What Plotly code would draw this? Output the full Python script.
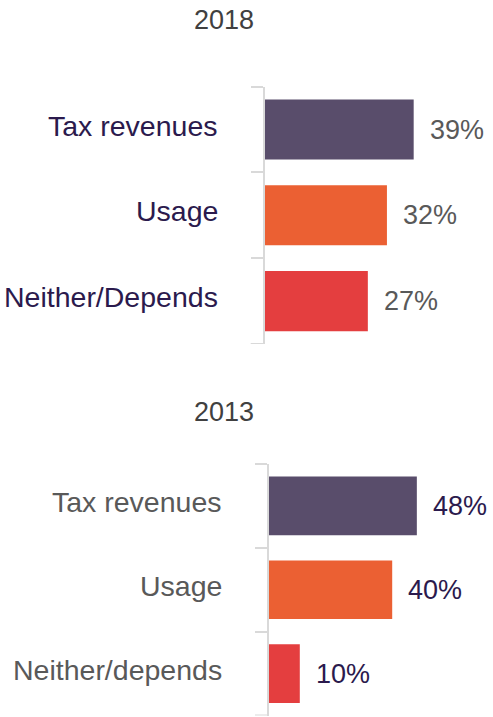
import plotly.graph_objects as go
from plotly.subplots import make_subplots

# Survey results: how the service should be funded
categories_2018 = ["Tax revenues", "Usage", "Neither/Depends"]
values_2018 = [39, 32, 27]

categories_2013 = ["Tax revenues", "Usage", "Neither/depends"]
values_2013 = [48, 40, 10]

bar_colors = ["#594d6b", "#eb6033", "#e43e3f"]

PURPLE = "#2b1a4d"
GREY = "#595959"
AXIS_GREY = "#d9d9d9"
FONT = "Arial, Liberation Sans, sans-serif"
W, H = 493, 717

fig = make_subplots(rows=2, cols=1)

fig.add_trace(go.Bar(x=values_2018, y=categories_2018, orientation="h",
                     marker=dict(color=bar_colors, line=dict(width=0)),
                     width=0.7, hoverinfo="skip"), row=1, col=1)
fig.add_trace(go.Bar(x=values_2013, y=categories_2013, orientation="h",
                     marker=dict(color=bar_colors, line=dict(width=0)),
                     width=0.7, hoverinfo="skip"), row=2, col=1)

panels = [
    # categories, values, xref, yref, category colour, value colour,
    # axis x (px), label right edge (px)
    (categories_2018, values_2018, "x", "y", PURPLE, GREY, 264.7, 220),
    (categories_2013, values_2013, "x2", "y2", GREY, PURPLE, 269.0, 224),
]

for cats, vals, xref, yref, cat_col, val_col, axis_px, label_px in panels:
    for c, v in zip(cats, vals):
        # value label to the right of each bar
        fig.add_annotation(x=v, y=c, xref=xref, yref=yref, text=f"{v}%",
                           showarrow=False, xanchor="left", yanchor="middle",
                           xshift=14, font=dict(family=FONT, size=27, color=val_col))
        # category label left of the axis
        fig.add_annotation(x=0, y=c, xref=xref, yref=yref, text=c,
                           showarrow=False, xanchor="right", yanchor="middle",
                           xshift=-(axis_px - label_px), yshift=4,
                           font=dict(family=FONT, size=28.5, color=cat_col))
    # closing tick at the lower end of the bracket
    fig.add_shape(type="line", xref="paper", yref=yref,
                  x0=(axis_px - 14) / W, x1=(axis_px - 1) / W, y0=2.5, y1=2.5,
                  line=dict(color=AXIS_GREY, width=2))

# panel titles
for txt, ypx in [("2018", 19.5), ("2013", 411.5)]:
    fig.add_annotation(x=223.5 / W, y=1 - ypx / H, xref="paper", yref="paper",
                       text=txt, showarrow=False, xanchor="center", yanchor="middle",
                       font=dict(family=FONT, size=27, color="#404040"))

axis_common = dict(showgrid=False, zeroline=False, showticklabels=False,
                   showline=False, ticks="")
yaxis_common = dict(range=[2.5, -0.5], showgrid=False, zeroline=False,
                    showline=True, linecolor=AXIS_GREY, linewidth=2,
                    ticks="outside", ticklen=12, tickwidth=2, tickcolor=AXIS_GREY,
                    tickson="boundaries", showticklabels=False)
fig.update_layout(
    xaxis=dict(domain=[264.7 / W, 1], range=[0, (W - 264.7) / 3.82], **axis_common),
    xaxis2=dict(domain=[269 / W, 1], range=[0, (W - 269) / 3.08], **axis_common),
    yaxis=dict(domain=[1 - 344 / H, 1 - 86.7 / H], **yaxis_common),
    yaxis2=dict(domain=[1 - 715.5 / H, 1 - 464 / H], **yaxis_common),
    width=W, height=H,
    margin=dict(l=0, r=0, t=0, b=0),
    paper_bgcolor="white", plot_bgcolor="white",
    showlegend=False, bargap=0.3,
)

fig.write_html("out.html", config={"displayModeBar": False})
